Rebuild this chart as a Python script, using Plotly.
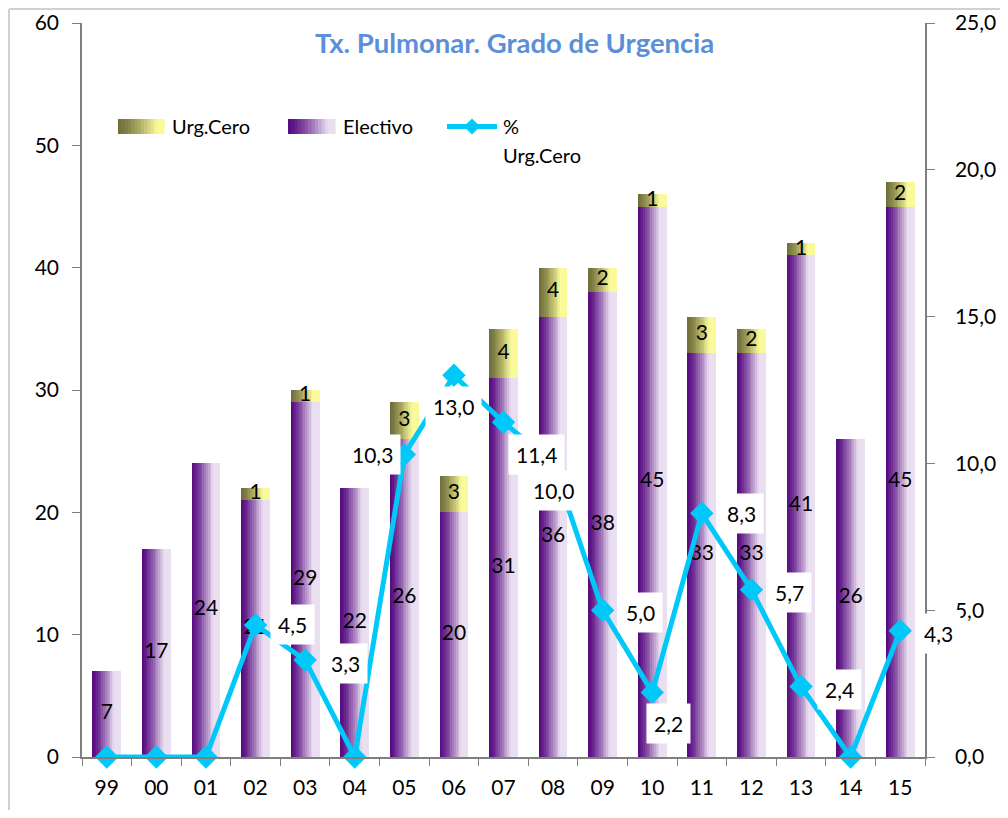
import plotly.graph_objects as go

# data
years = ["99", "00", "01", "02", "03", "04", "05", "06", "07", "08",
         "09", "10", "11", "12", "13", "14", "15"]
electivo = [7, 17, 24, 21, 29, 22, 26, 20, 31, 36, 38, 45, 33, 33, 41, 26, 45]
urg_cero = [0, 0, 0, 1, 1, 0, 3, 3, 4, 4, 2, 1, 3, 2, 1, 0, 2]
pct_urg = [0.0, 0.0, 0.0, 4.5, 3.3, 0.0, 10.3, 13.0, 11.4, 10.0,
           5.0, 2.2, 8.3, 5.7, 2.4, 0.0, 4.3]

# label nudges (px) for the % labels, keyed by year
pct_shift = {"02": (37, 0), "03": (40, -3), "05": (-32, 0), "06": (0, -31),
             "07": (33, -32), "08": (0, -27), "09": (38, -2), "10": (16, -31),
             "11": (40, 0), "12": (38, -3), "13": (38, -3), "15": (38, -3)}

# the page puts the figure 8px in from the window corner, so work in
# window pixels and shift back
OFF = 8
W, H = 1008 - OFF, 818 - 2 * OFF
PL, PR, PT, PB = 82, 925, 23, 757          # plot area in window pixels
ML, MT = PL - OFF, PT - OFF
MR, MB = W - (PR - OFF), H - (PB - OFF)
PW, PH = PR - PL, PB - PT
FONT = "Lato"
CYAN = "#00C8F8"

def px(x):
    return (x - PL) / PW

def py(y):
    return (PB - y) / PH

def mix(c1, c2, t):
    a = [int(c1[i:i + 2], 16) for i in (1, 3, 5)]
    b = [int(c2[i:i + 2], 16) for i in (1, 3, 5)]
    return "rgb(%d,%d,%d)" % tuple(round(a[k] + (b[k] - a[k]) * t) for k in range(3))

def ramp(k, n, span=0.75):
    t = min(1.0, (k + 0.5) / n / span)
    return t ** 1.35

PURPLE = ("#560A80", "#EADFF0")
OLIVE = ("#706E3A", "#FAFA9A")

fig = go.Figure()

# bars as thin slices to fake the horizontal gradient
NS = 16
BW = 0.58
dw = BW / NS
for k in range(NS):
    off = -BW / 2 + k * dw
    wk = dw * (1.0 if k == NS - 1 else 1.2)
    fig.add_trace(go.Bar(x=years, y=electivo, offset=off, width=wk,
                         marker=dict(color=mix(*PURPLE, ramp(k, NS)), line=dict(width=0)),
                         showlegend=False, hoverinfo="skip"))
    fig.add_trace(go.Bar(x=years, y=urg_cero, base=electivo, offset=off, width=wk,
                         marker=dict(color=mix(*OLIVE, ramp(k, NS)), line=dict(width=0)),
                         showlegend=False, hoverinfo="skip"))

# value labels inside bars
fig.add_trace(go.Scatter(x=years, y=[e / 2 for e in electivo], mode="text",
                         text=[str(e) for e in electivo],
                         textfont=dict(family=FONT, size=21, color="black"),
                         showlegend=False, hoverinfo="skip"))
uy = [e + u / 2 for e, u in zip(electivo, urg_cero) if u > 0]
ux = [yr for yr, u in zip(years, urg_cero) if u > 0]
ut = [str(u) for u in urg_cero if u > 0]
fig.add_trace(go.Scatter(x=ux, y=uy, mode="text", text=ut,
                         textfont=dict(family=FONT, size=21, color="black"),
                         showlegend=False, hoverinfo="skip"))

# % Urg.Cero line
fig.add_trace(go.Scatter(x=years, y=pct_urg, yaxis="y2", mode="lines+markers",
                         line=dict(color=CYAN, width=5),
                         marker=dict(symbol="diamond", size=18, color=CYAN),
                         cliponaxis=False, showlegend=False, hoverinfo="skip"))

annotations = []
for i, (yr, v) in enumerate(zip(years, pct_urg)):
    if v == 0:
        continue
    dx, dy = pct_shift.get(yr, (38, 0))
    annotations.append(dict(x=i, y=v, xref="x", yref="y2", showarrow=False,
                            text=f"{v:.1f}".replace(".", ","), xshift=dx, yshift=dy,
                            bgcolor="white", borderpad=7,
                            font=dict(family=FONT, size=21, color="black")))

# title
annotations.append(dict(x=px(514), y=py(43), xref="paper", yref="paper",
                        text="<b>Tx. Pulmonar. Grado de Urgencia</b>", showarrow=False,
                        xanchor="center", yanchor="middle",
                        font=dict(family=FONT, size=27.5, color="#5B8FD8")))

# legend (drawn by hand so the swatches keep the gradient)
shapes = []
def swatch(x0, x1, y0, y1, cols):
    n = 14
    step = (x1 - x0) / n
    for k in range(n):
        shapes.append(dict(type="rect", xref="paper", yref="paper",
                           x0=px(x0 + k * step), x1=px(x0 + (k + 1) * step + 0.6),
                           y0=py(y1), y1=py(y0), line=dict(width=0),
                           fillcolor=mix(*cols, ramp(k, n, 0.85))))

swatch(118, 164, 119, 134, OLIVE)
swatch(288, 335, 119, 134, PURPLE)
shapes.append(dict(type="line", xref="paper", yref="paper", x0=px(447), x1=px(497),
                   y0=py(126.5), y1=py(126.5), line=dict(color=CYAN, width=5)))
cx, cy = 472, 126.5
shapes.append(dict(type="path", xref="paper", yref="paper", fillcolor=CYAN,
                   line=dict(width=0),
                   path="M %f %f L %f %f L %f %f L %f %f Z" % (
                       px(cx), py(cy - 8), px(cx + 8), py(cy),
                       px(cx), py(cy + 8), px(cx - 8), py(cy))))
for x0, y0, t in [(170, 126.5, "Urg.Cero"), (341, 126.5, "Electivo"),
                  (501, 126.5, "%"), (501, 155, "Urg.Cero")]:
    annotations.append(dict(x=px(x0), y=py(y0), xref="paper", yref="paper", text=t,
                            showarrow=False, xanchor="left", yanchor="middle",
                            font=dict(family=FONT, size=20, color="black")))

# outer chart frame (only left / top edges are visible)
FRAME = dict(color="#D0D0D0", width=2)
shapes.append(dict(type="line", xref="paper", yref="paper",
                   x0=px(9), x1=px(9), y0=py(820), y1=py(9), line=FRAME))
shapes.append(dict(type="line", xref="paper", yref="paper",
                   x0=px(9), x1=px(1010), y0=py(9), y1=py(9), line=FRAME))

AX = "#7F7F7F"
fig.update_layout(
    width=W, height=H,
    margin=dict(l=ML, r=MR, t=MT, b=MB, autoexpand=False),
    paper_bgcolor="white", plot_bgcolor="white",
    barmode="overlay", bargap=0,
    separators=",.",
    font=dict(family=FONT, size=21, color="black"),
    xaxis=dict(type="category", showline=True, linecolor=AX, linewidth=1.5,
               ticks="outside", ticklen=7, tickcolor=AX, tickson="boundaries",
               ticklabelstandoff=11, showgrid=False, zeroline=False,
               range=[-0.5, len(years) - 0.5], fixedrange=True),
    yaxis=dict(range=[0, 60], dtick=10, showline=True, linecolor=AX, linewidth=1.5,
               ticks="outside", ticklen=8, tickcolor=AX, showgrid=False,
               zeroline=False, ticklabelstandoff=9),
    yaxis2=dict(range=[0, 25], dtick=5, overlaying="y", side="right",
                tickformat=".1f", showline=True, linecolor=AX, linewidth=1.5,
                ticks="outside", ticklen=8, tickcolor=AX, showgrid=False,
                zeroline=False, ticklabelstandoff=16),
    annotations=annotations,
    shapes=shapes,
    showlegend=False,
)

fig.write_html("out.html")
